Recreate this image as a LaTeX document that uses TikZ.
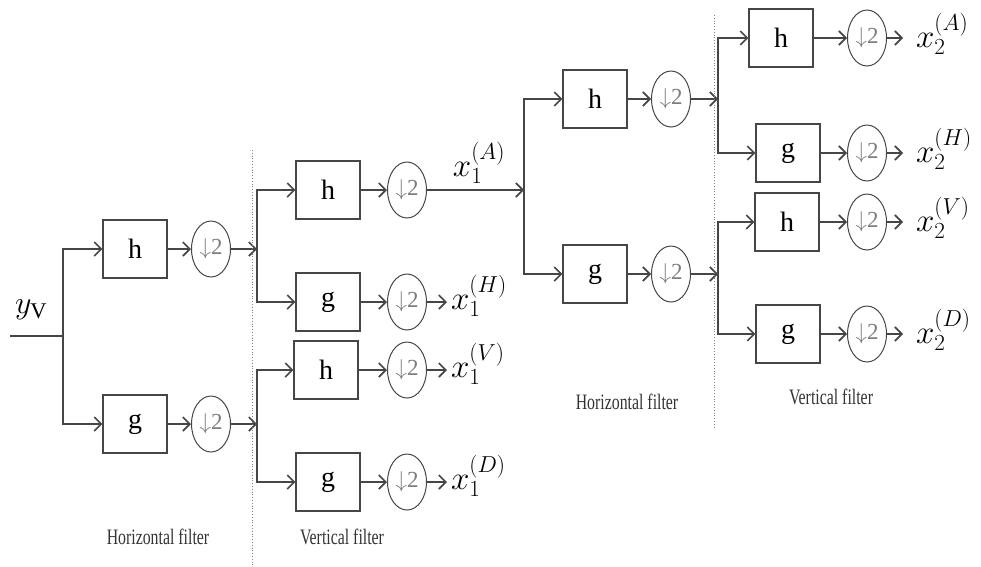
\RequirePackage{fix-cm}
\documentclass[tikz,border=0pt]{standalone}
\usepackage{fontspec}
\setmainfont{Liberation Serif}
\usepackage{graphicx}
\usepackage{tikz}
\usetikzlibrary{positioning}
\usetikzlibrary{calc}
\usetikzlibrary{arrows.meta}
\usetikzlibrary{shapes.geometric}
\usepackage{amsmath}
\definecolor{wiregray}{RGB}{70,70,70}
\definecolor{dsgray}{RGB}{125,125,125}
\newcommand{\captxt}[1]{\scalebox{0.72}[1]{#1}}

\begin{document}
\begin{tikzpicture}[x=1pt, y=-1pt,
    filt/.style={draw=wiregray, line width=1.1pt, minimum width=64pt, minimum height=58pt, inner sep=0pt, font=\fontsize{28}{32}\selectfont},
    dsamp/.style={draw=wiregray, ellipse, line width=1pt, minimum width=39pt, minimum height=56pt, inner sep=0pt, text=dsgray, font=\fontsize{23}{26}\selectfont},
    conn/.style={draw=wiregray, line width=1.7pt},
    arr/.style={conn, -{Straight Barb[length=7pt, width=14pt]}},
    outlbl/.style={anchor=west, inner sep=0pt, outer xsep=#1, font=\fontsize{33}{38}\selectfont},
    outlbl/.default=4pt,
    caption/.style={font=\fontsize{22}{26}\selectfont, text=black!80},
    sep/.style={draw=gray, dotted, line width=0.8pt}]
    \useasboundingbox (0,0) rectangle (981,566);

    % Stage 1: horizontal filter
    \coordinate (yin) at (10,336);
    \coordinate (j1) at (63,336);
    \node[font=\fontsize{32}{36}\selectfont, inner sep=0pt] (ylbl) at (31,310) {$y_{\mathrm{V}}$};
    \node[filt] (h1) at (135,249) {h};
    \node[filt] (g1) at (135,424) {g};
    \node[dsamp] (dh1) at (211,249) {$\downarrow$2};
    \node[dsamp] (dg1) at (211,424) {$\downarrow$2};

    \draw[conn] (yin) -- (j1);
    \draw[arr] (j1) |- (h1.west);
    \draw[arr] (j1) |- (g1.west);
    \draw[arr] (h1) -- (dh1);
    \draw[arr] (g1) -- (dg1);

    % Stage 2: vertical filter
    \coordinate (j2a) at (257,249);
    \coordinate (j2b) at (257,424);
    \node[filt] (h2a) at (328,190) {h};
    \node[filt] (g2a) at (328,302) {g};
    \node[filt] (h2b) at (326,370) {h};
    \node[filt] (g2b) at (328,482) {g};
    \node[dsamp] (dh2a) at (407,190) {$\downarrow$2};
    \node[dsamp] (dg2a) at (407,302) {$\downarrow$2};
    \node[dsamp] (dh2b) at (407,370) {$\downarrow$2};
    \node[dsamp] (dg2b) at (407,482) {$\downarrow$2};

    \draw[arr] (dh1) -- (j2a);
    \draw[arr] (dg1) -- (j2b);
    \draw[arr] (j2a) |- (h2a.west);
    \draw[arr] (j2a) |- (g2a.west);
    \draw[arr] (j2b) |- (h2b.west);
    \draw[arr] (j2b) |- (g2b.west);
    \draw[arr] (h2a) -- (dh2a);
    \draw[arr] (g2a) -- (dg2a);
    \draw[arr] (h2b) -- (dh2b);
    \draw[arr] (g2b) -- (dg2b);

    % level-1 outputs
    \node[font=\fontsize{33}{38}\selectfont, inner sep=0pt] (xa1) at (479,163) {$x_1^{(A)}$};
    \node[outlbl] (xh1) at (447,296) {$x_1^{(H)}$};
    \node[outlbl] (xv1) at (447,364) {$x_1^{(V)}$};
    \node[outlbl] (xd1) at (447,476) {$x_1^{(D)}$};
    \draw[arr] (dg2a.east) -- (dg2a.east -| xh1.west);
    \draw[arr] (dh2b.east) -- (dh2b.east -| xv1.west);
    \draw[arr] (dg2b.east) -- (dg2b.east -| xd1.west);

    % Stage 3: horizontal filter on the approximation
    \coordinate (j3) at (524,190);
    \node[filt] (h3) at (595,99) {h};
    \node[filt] (g3) at (595,274) {g};
    \node[dsamp] (dh3) at (671,99) {$\downarrow$2};
    \node[dsamp] (dg3) at (671,274) {$\downarrow$2};

    \draw[arr] (dh2a) -- (j3);
    \draw[arr] (j3) |- (h3.west);
    \draw[arr] (j3) |- (g3.west);
    \draw[arr] (h3) -- (dh3);
    \draw[arr] (g3) -- (dg3);

    % Stage 4: vertical filter
    \coordinate (j4a) at (718,99);
    \coordinate (j4b) at (718,274);
    \node[filt] (h4a) at (781,38) {h};
    \node[filt] (g4a) at (788,153) {g};
    \node[filt] (h4b) at (787,222) {h};
    \node[filt] (g4b) at (788,334) {g};
    \node[dsamp] (dh4a) at (867,38) {$\downarrow$2};
    \node[dsamp] (dg4a) at (867,153) {$\downarrow$2};
    \node[dsamp] (dh4b) at (867,222) {$\downarrow$2};
    \node[dsamp] (dg4b) at (867,334) {$\downarrow$2};

    \draw[arr] (dh3) -- (j4a);
    \draw[arr] (dg3) -- (j4b);
    \draw[arr] (j4a) |- (h4a.west);
    \draw[arr] (j4a) |- (g4a.west);
    \draw[arr] (j4b) |- (h4b.west);
    \draw[arr] (j4b) |- (g4b.west);
    \draw[arr] (h4a) -- (dh4a);
    \draw[arr] (g4a) -- (dg4a);
    \draw[arr] (h4b) -- (dh4b);
    \draw[arr] (g4b) -- (dg4b);

    % level-2 outputs
    \node[outlbl=13pt] (xa2) at (903,34) {$x_2^{(A)}$};
    \node[outlbl=13pt] (xh2) at (903,149) {$x_2^{(H)}$};
    \node[outlbl=13pt] (xv2) at (903,218) {$x_2^{(V)}$};
    \node[outlbl=13pt] (xd2) at (903,330) {$x_2^{(D)}$};
    \draw[arr] (dh4a.east) -- (dh4a.east -| xa2.west);
    \draw[arr] (dg4a.east) -- (dg4a.east -| xh2.west);
    \draw[arr] (dh4b.east) -- (dh4b.east -| xv2.west);
    \draw[arr] (dg4b.east) -- (dg4b.east -| xd2.west);

    % Separators and captions
    \draw[sep] (252,150) -- (252,566);
    \draw[sep] (714,15) -- (714,427);
    \node[caption] (cap1) at (158,537) {\captxt{Horizontal filter}};
    \node[caption] (cap2) at (342,537) {\captxt{Vertical filter}};
    \node[caption] (cap3) at (627,402) {\captxt{Horizontal filter}};
    \node[caption] (cap4) at (831,397) {\captxt{Vertical filter}};
\end{tikzpicture}
\end{document}
